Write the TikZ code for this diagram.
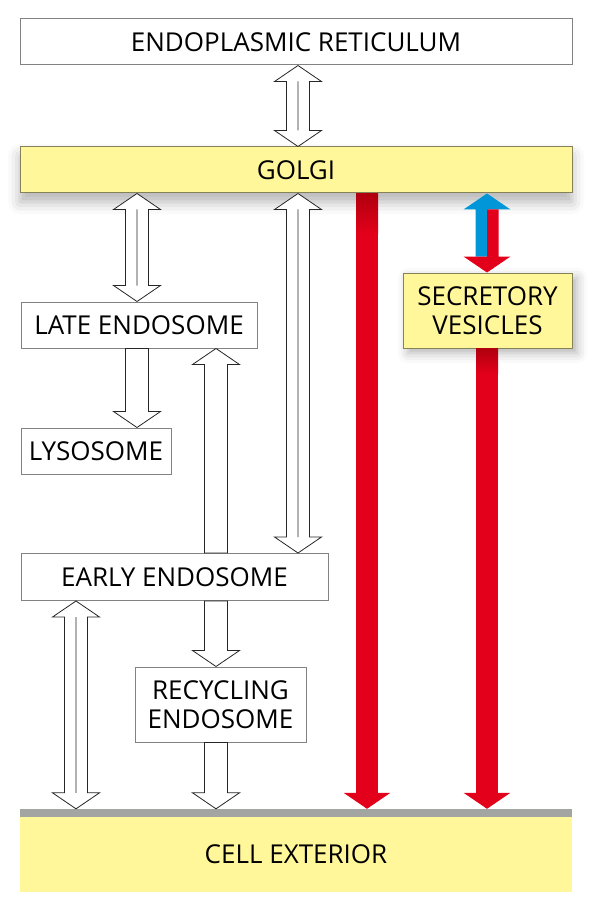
\documentclass[tikz,border=0pt]{standalone}
\usepackage{fontspec}
\setmainfont{Open Sans}
\usetikzlibrary{arrows.meta,calc,shadows.blur}
\definecolor{ink}{HTML}{000000}
\definecolor{boxline}{HTML}{828282}
\definecolor{cream}{HTML}{FFF799}
\definecolor{creamline}{HTML}{85825A}
\definecolor{secrete}{HTML}{E2001A}
\definecolor{secretedark}{HTML}{B0000E}
\definecolor{retrieve}{HTML}{0096D8}
\definecolor{membrane}{HTML}{A2A5A1}
\newcommand{\headhalf}{23.5pt}
\newcommand{\shafthalf}{11.5pt}
\newcommand{\headlen}{16pt}
% outlined arrow, tail #1, tip #2
\newcommand{\oneway}[2]{%
  \draw[hollow] let \p1=(#1), \p2=(#2), \p3=($(#2)!\headlen!(#1)$) in
    (\x1-\shafthalf,\y1) -- (\x3-\shafthalf,\y3) -- (\x3-\headhalf,\y3) -- (\x2,\y2)
    -- (\x3+\headhalf,\y3) -- (\x3+\shafthalf,\y3) -- (\x1+\shafthalf,\y1) -- cycle;}
% outlined arrow both ways, top #1, bottom #2
\newcommand{\twoway}[2]{%
  \draw[hollow] let \p1=(#1), \p2=(#2), \p3=($(#1)!\headlen!(#2)$), \p4=($(#2)!\headlen!(#1)$) in
    (\x1,\y1) -- (\x3+\headhalf,\y3) -- (\x3+\shafthalf,\y3) -- (\x4+\shafthalf,\y4)
    -- (\x4+\headhalf,\y4) -- (\x2,\y2) -- (\x4-\headhalf,\y4) -- (\x4-\shafthalf,\y4)
    -- (\x3-\shafthalf,\y3) -- (\x3-\headhalf,\y3) -- cycle
    (\x3,\y3) -- (\x4,\y4);}

\begin{document}
\begin{tikzpicture}[x=1pt,y=-1pt,
    box/.style={draw=boxline,line width=1pt,fill=white,inner sep=0pt,text=ink,
      font=\fontsize{26}{29}\selectfont},
    yellowbox/.style={box,draw=creamline,fill=cream},
    hollow/.style={draw=ink!85,line width=0.8pt,fill=white},
    redarrow/.style={secrete,line width=22pt,-{Triangle[length=16pt,width=46pt]}}]
  \useasboundingbox (0,0) rectangle (597,909);
  \coordinate (c0) at (76,0);
  \coordinate (c1) at (137,0);
  \coordinate (c2) at (216,0);
  \coordinate (c3) at (298,0);
  \coordinate (c4) at (367,0);
  \coordinate (c5) at (487,0);

  % compartments
  \node[box,minimum width=552pt,minimum height=46pt] (er) at (296,42) {ENDOPLASMIC RETICULUM};
  \node[yellowbox,minimum width=552pt,minimum height=46pt,
    blur shadow={shadow xshift=0pt,shadow yshift=-9pt,shadow blur radius=12pt,shadow opacity=30}]
    (golgi) at (296,170) {GOLGI};
  \node[box,minimum width=236pt,minimum height=46pt] (late) at (139,325) {LATE ENDOSOME};
  \node[box,minimum width=150pt,minimum height=46pt] (lys) at (96,451) {LYSOSOME};
  \node[box,minimum width=307pt,minimum height=47pt] (early) at (174.5,577) {EARLY ENDOSOME};
  \node[box,minimum width=171pt,minimum height=75pt,align=center] (recyc) at (220.5,704.5) {RECYCLING\\ENDOSOME};
  \node[yellowbox,minimum width=169pt,minimum height=75pt,align=center,
    blur shadow={shadow xshift=5pt,shadow yshift=-5pt,shadow blur radius=10pt,shadow opacity=30}]
    (sv) at (487.5,310.5) {SECRETORY\\VESICLES};
  \node[fill=membrane,minimum width=552pt,minimum height=8pt,inner sep=0pt] (pm) at (296,813) {};
  \node[fill=cream,minimum width=552pt,minimum height=75pt,inner sep=0pt,text=ink,
    font=\fontsize{26}{29}\selectfont] (ext) at (296,854.5) {CELL EXTERIOR};

  % secretion
  \draw[redarrow] (golgi.south -| c4) -- (pm.north -| c4);
  \draw[redarrow] (sv.south -| c5) -- (pm.north -| c5);
  \shade[top color=secretedark,bottom color=secrete] ($(golgi.south -| c4)+(-11,0)$) rectangle ++(22,40);
  \shade[top color=secretedark,bottom color=secrete] ($(sv.south -| c5)+(-11,0)$) rectangle ++(22,25);
  \fill[retrieve] let \p1=(golgi.south -| c5), \p2=(sv.north -| c5),
      \p3=($(\p1)!\headlen!(\p2)$), \p4=($(\p2)!\headlen!(\p1)$) in
    (\x1,\y1) -- (\x3+\headhalf,\y3) -- (\x3,\y3) -- (\x4,\y4) -- (\x4-\shafthalf,\y4)
    -- (\x3-\shafthalf,\y3) -- (\x3-\headhalf,\y3) -- cycle;
  \fill[secrete] let \p1=(golgi.south -| c5), \p2=(sv.north -| c5),
      \p3=($(\p1)!\headlen!(\p2)$), \p4=($(\p2)!\headlen!(\p1)$) in
    (\x2,\y2) -- (\x4-\headhalf,\y4) -- (\x4,\y4) -- (\x3,\y3) -- (\x3+\shafthalf,\y3)
    -- (\x4+\shafthalf,\y4) -- (\x4+\headhalf,\y4) -- cycle;

  % membrane traffic
  \twoway{er.south -| c3}{golgi.north -| c3}
  \twoway{golgi.south -| c1}{late.north -| c1}
  \twoway{golgi.south -| c3}{early.north -| c3}
  \oneway{late.south -| c1}{lys.north -| c1}
  \oneway{early.north -| c2}{late.south -| c2}
  \oneway{early.south -| c2}{recyc.north -| c2}
  \oneway{recyc.south -| c2}{pm.north -| c2}
  \twoway{early.south -| c0}{pm.north -| c0}
\end{tikzpicture}
\end{document}
